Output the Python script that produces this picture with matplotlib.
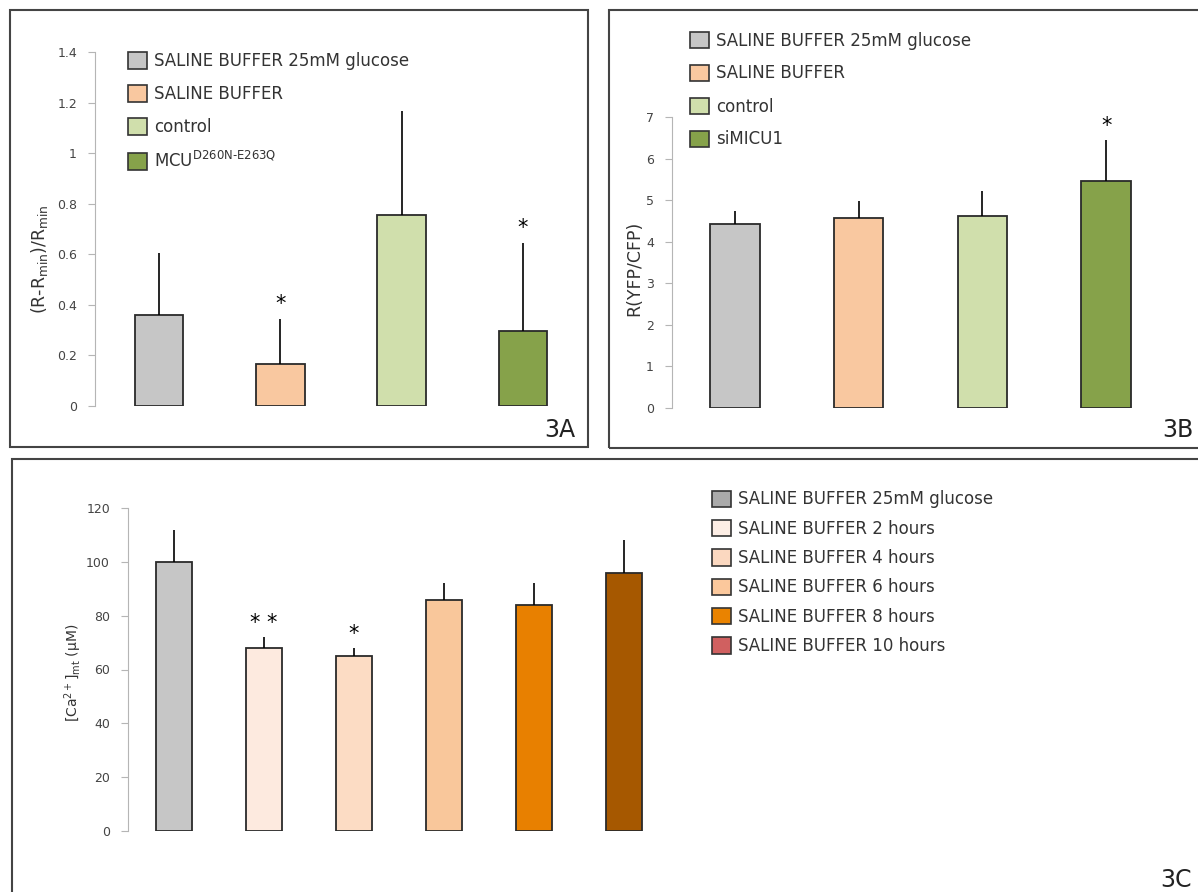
import matplotlib
matplotlib.use("Agg")
import matplotlib.pyplot as plt
from matplotlib.patches import Patch, Rectangle
import numpy as np

plt.rcParams['font.family'] = ['DejaVu Sans']
plt.rcParams['mathtext.fontset'] = 'dejavusans'

# ---- data ----
# panel 3A
a_labels = ["SALINE BUFFER 25mM glucose", "SALINE BUFFER", "control",
            r"MCU$^{\mathregular{D260N‐E263Q}}$"]
a_values = [0.36, 0.165, 0.755, 0.295]
a_err = [0.245, 0.179, 0.41, 0.35]
a_colors = ["#c6c6c6", "#f9c8a0", "#d0dfac", "#86a24a"]
a_stars = ["", "*", "", "*"]
a_ticks = [0, 0.2, 0.4, 0.6, 0.8, 1.0, 1.2, 1.4]
a_ticklabels = ["0", "0.2", "0.4", "0.6", "0.8", "1", "1.2", "1.4"]

# panel 3B
b_labels = ["SALINE BUFFER 25mM glucose", "SALINE BUFFER", "control", "siMICU1"]
b_values = [4.42, 4.57, 4.62, 5.45]
b_err = [0.33, 0.40, 0.60, 1.0]
b_colors = ["#c6c6c6", "#f9c8a0", "#d0dfac", "#86a24a"]
b_stars = ["", "", "", "*"]
b_ticks = [0, 1, 2, 3, 4, 5, 6, 7]

# panel 3C
c_labels = ["SALINE BUFFER 25mM glucose", "SALINE BUFFER 2 hours",
            "SALINE BUFFER 4 hours", "SALINE BUFFER 6 hours",
            "SALINE BUFFER 8 hours", "SALINE BUFFER 10 hours"]
c_values = [100, 68, 65, 86, 84, 96]
c_err = [12, 4, 3, 6, 8, 12]
c_colors = ["#c6c6c6", "#fdeadf", "#fcdcc4", "#f9c79b", "#e88000", "#a65800"]
c_legend_colors = ["#aaaaaa", "#fdeee5", "#fbd8c0", "#fbc89c", "#ea8300", "#d06060"]
c_stars = ["", "* *", "*", "", "", ""]
c_ticks = [0, 20, 40, 60, 80, 100, 120]

W, H = 1198, 892
fig = plt.figure(figsize=(W / 100, H / 100), dpi=100)


def px_axes(left, top, right, bottom):
    return fig.add_axes([left / W, 1 - bottom / H, (right - left) / W, (bottom - top) / H])


def frame(x0, y0, x1, y1):
    fig.add_artist(Rectangle((x0 / W, 1 - y1 / H), (x1 - x0) / W, (y1 - y0) / H,
                             transform=fig.transFigure, fill=False,
                             edgecolor="#444444", linewidth=1.5))


def draw_panel(ax, values, err, colors, stars, ticks, ticklabels, width,
               left_px, right_px, first_px, step_px, star_off):
    x = np.arange(len(values))
    ax.bar(x, values, width=width, color=colors, edgecolor="#2a2a2a", linewidth=1.3,
           yerr=[np.zeros(len(err)), err],
           error_kw=dict(ecolor="black", elinewidth=1.2, capsize=0))
    for i, s in enumerate(stars):
        if s:
            ax.annotate(s, (x[i], values[i] + err[i]), xytext=(0, star_off),
                        textcoords="offset points", ha="center", va="center",
                        fontsize=15, color="black")
    ax.set_xlim((left_px - first_px) / step_px, (right_px - first_px) / step_px)
    ax.set_ylim(ticks[0], ticks[-1])
    ax.set_yticks(ticks)
    ax.set_yticklabels(ticklabels)
    ax.set_xticks([])
    for sp in ["top", "right", "bottom"]:
        ax.spines[sp].set_visible(False)
    ax.spines["left"].set_color("#b5b5b5")
    ax.tick_params(axis="y", colors="#b5b5b5", labelcolor="#444444",
                   labelsize=9, length=5, pad=8)
    ax.patch.set_alpha(0)


def add_legend(ax, colors, labels, left_px, top_px, spacing):
    ax.legend([Patch(facecolor=c, edgecolor="#333333", linewidth=1.2) for c in colors],
              labels, loc="upper left", bbox_to_anchor=(left_px / W, 1 - top_px / H),
              bbox_transform=fig.transFigure, frameon=False, fontsize=12,
              handlelength=1.15, handleheight=1.15, handletextpad=0.4,
              labelspacing=spacing, borderpad=0, borderaxespad=0, labelcolor="#333333")


# frames
frame(10, 10, 588, 447)
frame(609, 10, 1210, 448)
frame(12, 459, 1210, 900)

# panel A
ax_a = px_axes(95, 52, 585, 406)
draw_panel(ax_a, a_values, a_err, a_colors, a_stars, a_ticks, a_ticklabels, 0.40,
           95, 585, 159, 121.3, 11)
fig.text(40 / W, 1 - 259 / H, r"(R-R$_{\mathregular{min}}$)/R$_{\mathregular{min}}$",
         rotation=90, ha="center", va="center", fontsize=12.5, color="#333333")
add_legend(ax_a, a_colors, a_labels, 128, 52, 0.9)
fig.text(575 / W, 1 - 437 / H, "3A", ha="right", va="baseline", fontsize=17, color="#222222")

# panel B
ax_b = px_axes(672, 117, 1190, 408)
draw_panel(ax_b, b_values, b_err, b_colors, b_stars, b_ticks, [str(t) for t in b_ticks], 0.40,
           672, 1190, 735, 123.7, 10)
fig.text(634 / W, 1 - 268 / H, "R(YFP/CFP)", rotation=90, ha="center", va="center",
         fontsize=12.5, color="#333333")
add_legend(ax_b, b_colors, b_labels, 690, 31.5, 0.9)
fig.text(1193 / W, 1 - 437 / H, "3B", ha="right", va="baseline", fontsize=17, color="#222222")

# panel C
ax_c = px_axes(128, 508, 670, 831)
draw_panel(ax_c, c_values, c_err, c_colors, c_stars, c_ticks, [str(t) for t in c_ticks], 0.41,
           128, 670, 174, 90, 10)
fig.text(73 / W, 1 - 673 / H, r"[Ca$^{\mathregular{2+}}$]$_{\mathregular{mt}}$ (μM)",
         rotation=90, ha="center", va="center", fontsize=10, color="#333333")
add_legend(ax_c, c_legend_colors, c_labels, 712, 490.5, 0.68)
fig.text(1192 / W, 1 - 887 / H, "3C", ha="right", va="baseline", fontsize=17, color="#222222")

fig.savefig("out.png", dpi=100)
